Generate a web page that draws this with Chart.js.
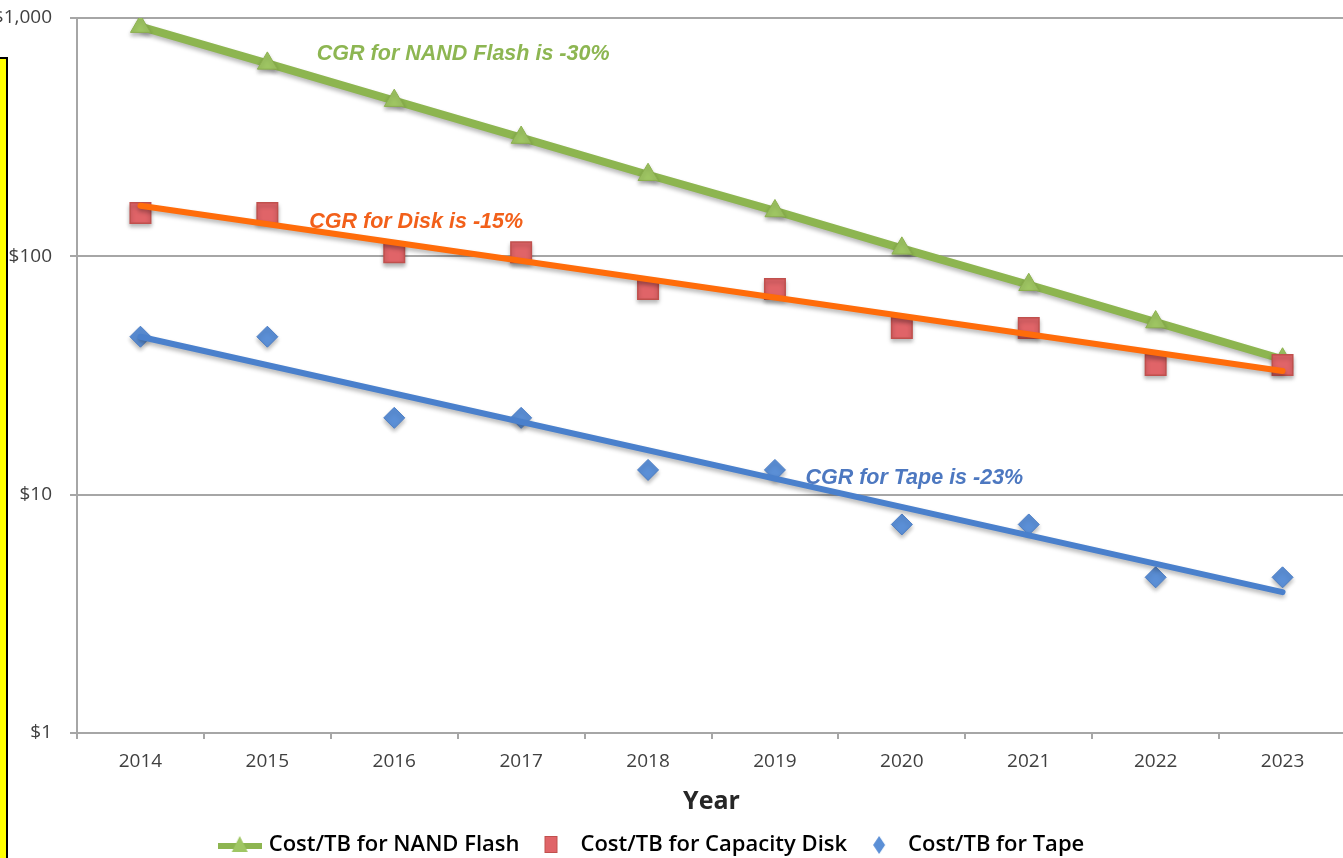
<!DOCTYPE html>
<html>
<head>
<meta charset="utf-8">
<script src="https://cdn.jsdelivr.net/npm/chart.js@4.4.1/dist/chart.umd.min.js"></script>
<style>
  html, body { margin: 0; padding: 0; background: #fff; overflow: hidden; }
  #wrap { position: relative; width: 1343px; height: 858px; overflow: hidden; }
  #costChart { position: absolute; left: 0; top: 0; }
  #sideBox { position: absolute; left: -2px; top: 57px; width: 6px; height: 820px;
             background: #ffff00; border: 2px solid #000; }
</style>
</head>
<body>
<div id="wrap">
  <canvas id="costChart" width="1362" height="858"></canvas>
  <div id="sideBox"></div>
</div>
<script>
  // data
  const years = ['2014', '2015', '2016', '2017', '2018', '2019', '2020', '2021', '2022', '2023'];
  const flashCost = [920, 645, 450, 315, 220, 155, 108, 76, 53, 37];
  const diskCost = [152, 152, 104, 104, 73, 73, 50, 50, 35, 35];
  const tapeCost = [46, 46, 21, 21, 12.7, 12.7, 7.5, 7.5, 4.5, 4.5];
  // trend lines: only the two ends are drawn, gaps spanned
  const diskTrend = [163, null, null, null, null, null, null, null, null, 33];
  const tapeTrend = [46, null, null, null, null, null, null, null, null, 3.9];
  const yTicks = [1, 10, 100, 1000];
  const seriesNames = ['Cost/TB for NAND Flash', 'Cost/TB for Capacity Disk', 'Cost/TB for Tape'];

  const notes = [
    { text: 'CGR for NAND Flash is -30%', color: '#8db652', x: 1.39, y: 706 },
    { text: 'CGR for Disk is -15%', color: '#f2601a', x: 1.33, y: 139 },
    { text: 'CGR for Tape is -23%', color: '#4d78c0', x: 5.24, y: 11.7 }
  ];

  const GREEN = '#8db550', RED = '#e06468', BLUE = '#5b8fd6';

  function icon(w, h, draw) {
    const c = document.createElement('canvas');
    c.width = w; c.height = h;
    draw(c.getContext('2d'));
    return c;
  }
  const flashIcon = icon(44, 20, g => {
    g.fillStyle = GREEN;
    g.fillRect(0, 8, 44, 6);
    g.fillStyle = '#9fc663';
    g.beginPath(); g.moveTo(22, 1); g.lineTo(30, 17); g.lineTo(14, 17); g.closePath(); g.fill();
  });
  const diskIcon = icon(16, 20, g => {
    g.fillStyle = RED; g.fillRect(1, 1, 13, 17);
    g.strokeStyle = '#c0504d'; g.strokeRect(1.5, 1.5, 12, 16);
  });
  const tapeIcon = icon(14, 20, g => {
    g.fillStyle = BLUE;
    g.beginPath(); g.moveTo(7, 1); g.lineTo(13, 10); g.lineTo(7, 19); g.lineTo(1, 10); g.closePath(); g.fill();
  });
  const legendIcons = [flashIcon, diskIcon, tapeIcon];

  const shadowPlugin = {
    id: 'shadow',
    beforeDatasetDraw(chart) {
      const ctx = chart.ctx;
      ctx.save();
      ctx.shadowColor = 'rgba(0,0,0,0.28)';
      ctx.shadowBlur = 4;
      ctx.shadowOffsetY = 3;
    },
    afterDatasetDraw(chart) { chart.ctx.restore(); }
  };

  const notePlugin = {
    id: 'notes',
    afterDatasetsDraw(chart) {
      const ctx = chart.ctx;
      const xs = chart.scales.x, ys = chart.scales.y;
      ctx.save();
      ctx.font = 'italic bold 21.5px "Liberation Sans", Arial, sans-serif';
      ctx.textAlign = 'left';
      ctx.textBaseline = 'middle';
      notes.forEach(n => {
        ctx.fillStyle = n.color;
        ctx.fillText(n.text, xs.getPixelForValue(n.x), ys.getPixelForValue(n.y));
      });
      ctx.restore();
    }
  };

  Chart.defaults.font.family = '"Open Sans", sans-serif';
  Chart.defaults.font.size = 19;
  Chart.defaults.color = '#404040';

  new Chart(document.getElementById('costChart'), {
    type: 'line',
    data: {
      labels: years,
      datasets: [
        {
          label: seriesNames[0], data: flashCost, order: 5,
          borderColor: GREEN, borderWidth: 8, tension: 0,
          pointStyle: 'triangle', pointRadius: 11.5, pointBackgroundColor: '#9fc663',
          pointBorderColor: '#8cb04f', pointBorderWidth: 1
        },
        {
          label: seriesNames[1], data: diskCost, order: 4, showLine: false,
          pointStyle: 'rect', pointRadius: 14.5, pointBackgroundColor: RED,
          pointBorderColor: '#c0504d', pointBorderWidth: 1.5
        },
        {
          label: seriesNames[2], data: tapeCost, order: 3, showLine: false,
          pointStyle: 'rectRot', pointRadius: 10.5, pointBackgroundColor: BLUE,
          pointBorderColor: '#4a7cc4', pointBorderWidth: 1
        },
        {
          label: 'disk trend', data: diskTrend, order: 2, spanGaps: true,
          borderColor: '#ff6c0a', borderWidth: 6, pointRadius: 0, borderCapStyle: 'round'
        },
        {
          label: 'tape trend', data: tapeTrend, order: 1, spanGaps: true,
          borderColor: '#4a80cc', borderWidth: 6, pointRadius: 0, borderCapStyle: 'round'
        }
      ]
    },
    options: {
      responsive: false,
      animation: false,
      layout: { padding: { left: -56, right: 0, top: 18, bottom: -8 } },
      plugins: {
        tooltip: { enabled: false },
        legend: {
          position: 'bottom',
          labels: {
            usePointStyle: true,
            pointStyleWidth: 36,
            padding: 14,
            color: '#1a1a1a',
            font: { size: 22, weight: '600' },
            generateLabels: () => seriesNames.map((name, i) => ({
              text: name, pointStyle: legendIcons[i], datasetIndex: i,
              fillStyle: 'transparent', strokeStyle: 'transparent', lineWidth: 0, hidden: false
            }))
          }
        }
      },
      scales: {
        x: {
          offset: true,
          grid: { offset: true, drawOnChartArea: false, tickLength: 6, color: '#a6a6a6', lineWidth: 2 },
          border: { color: '#a6a6a6', width: 2 },
          ticks: { padding: 11, color: '#404040' },
          title: { display: true, text: 'Year', color: '#262626',
                   font: { size: 25, weight: 'bold' }, padding: { top: 0, bottom: 3 } },
          afterFit: s => { s.height = 87; s.paddingLeft = 0; s.paddingRight = 0; }
        },
        y: {
          type: 'logarithmic',
          min: 1, max: 1000,
          afterBuildTicks: s => { s.ticks = yTicks.map(v => ({ value: v })); },
          grid: { tickLength: 7, color: '#a6a6a6', lineWidth: 2 },
          border: { color: '#a6a6a6', width: 2 },
          ticks: { padding: 18, color: '#404040',
                   callback: v => '$' + v.toLocaleString('en-US') },
          afterFit: s => { s.width = 133; s.paddingTop = 0; s.paddingBottom = 0; }
        }
      }
    },
    plugins: [shadowPlugin, notePlugin]
  });
</script>
</body>
</html>
